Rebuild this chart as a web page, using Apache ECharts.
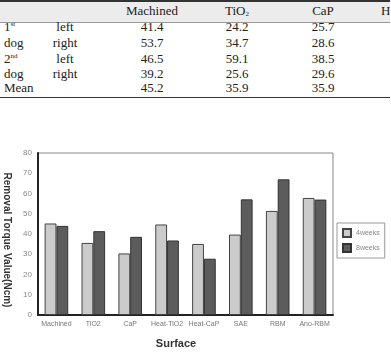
<!DOCTYPE html>
<html>
<head>
<meta charset="utf-8">
<script src="https://cdn.jsdelivr.net/npm/echarts@6/dist/echarts.min.js"></script>
<style>
  html, body { margin: 0; padding: 0; background: #fff; overflow: hidden; }
  #page { position: relative; width: 391px; height: 354px; overflow: hidden; }
  #table { position: absolute; left: 0; top: 0; width: 390px; height: 100px; overflow: hidden;
           font-family: "Liberation Serif", "DejaVu Serif", serif; font-size: 13px; color: #222; }
  .cell { position: absolute; white-space: nowrap; line-height: 14px; }
  .c { transform: translateX(-50%); }
  sup { font-size: 7px; vertical-align: 5px; line-height: 0; }
  sub { font-size: 7px; vertical-align: -1px; line-height: 0; }
  #chart { position: absolute; left: 0; top: 0; width: 391px; height: 354px; }
</style>
</head>
<body>
<div id="page">
  <div id="table"></div>
  <div id="chart"></div>
</div>
<script>
// table data
const tableCols = ['Machined', 'TiO<sub>2</sub>', 'CaP', 'Heat-TiO<sub>2</sub>'];
const rowLabels = ['1<sup>st</sup>', 'dog', '2<sup>nd</sup>', 'dog', 'Mean'];
const sideLabels = ['left', 'right', 'left', 'right', ''];
const machinedVals = [41.4, 53.7, 46.5, 39.2, 45.2];
const tio2Vals = [24.2, 34.7, 59.1, 25.6, 35.9];
const capVals = [25.7, 28.6, 38.5, 29.6, 35.9];

// chart data
const surfaces = ['Machined', 'TiO2', 'CaP', 'Heat-TiO2', 'Heat-CaP', 'SAE', 'RBM', 'Ano-RBM'];
const weeks4 = [45.2, 35.6, 30.4, 44.7, 35.1, 39.7, 51.4, 57.8];
const weeks8 = [44.0, 41.4, 38.6, 36.8, 27.8, 57.1, 67.0, 57.0];
const yTicks = [0, 10, 20, 30, 40, 50, 60, 70, 80];

// build table
const tbl = document.getElementById('table');
function addCell(html, x, y, center) {
  const d = document.createElement('div');
  d.className = 'cell' + (center ? ' c' : '');
  d.style.left = x + 'px';
  d.style.top = (y - 7) + 'px';
  d.innerHTML = html;
  tbl.appendChild(d);
}
function addLine(y, h, color) {
  const d = document.createElement('div');
  d.style.cssText = 'position:absolute;left:0;width:391px;top:' + y + 'px;height:' + h + 'px;background:' + color;
  tbl.appendChild(d);
}
const band = document.createElement('div');
band.style.cssText = 'position:absolute;left:0;top:1px;width:391px;height:21px;background:#ececec';
tbl.appendChild(band);
addLine(0, 1.5, '#333');
addLine(21.5, 1, '#999');
addLine(96.5, 1.5, '#333');

const colX = [152, 237, 323];
tableCols.forEach((c, i) => {
  if (i < 3) addCell(c, colX[i], 11, true);
  else addCell(c, 381, 11, false);
});
const rowY = [27, 43, 59, 74, 88];
const colVals = [machinedVals, tio2Vals, capVals];
rowLabels.forEach((r, i) => {
  addCell(r, 4, rowY[i], false);
  if (sideLabels[i]) addCell(sideLabels[i], 65, rowY[i], true);
  colVals.forEach((vals, j) => addCell(vals[i].toFixed(1), colX[j], rowY[i], true));
});

// chart
const chart = echarts.init(document.getElementById('chart'));
const sansFont = '"Liberation Sans", Arial, sans-serif';
chart.setOption({
  animation: false,
  grid: {
    left: 38, right: 58, top: 153, bottom: 39,
    show: true, borderColor: '#888', borderWidth: 1, backgroundColor: 'transparent'
  },
  legend: {
    orient: 'vertical',
    left: 337, top: 223,
    data: ['4weeks', '8weeks'],
    icon: 'rect',
    itemWidth: 8, itemHeight: 8, itemGap: 5,
    padding: [5, 5, 5, 5],
    borderColor: '#999', borderWidth: 1,
    textStyle: { fontSize: 7, color: '#888', fontFamily: sansFont }
  },
  xAxis: {
    type: 'category',
    data: surfaces,
    axisLine: { lineStyle: { color: '#222', width: 2 } },
    axisTick: { show: false },
    axisLabel: { fontSize: 7, color: '#777', margin: 6, interval: 0, fontFamily: sansFont }
  },
  yAxis: {
    type: 'value',
    min: yTicks[0], max: yTicks[yTicks.length - 1], interval: 10,
    axisLine: { show: true, lineStyle: { color: '#222', width: 2 } },
    axisTick: { show: false },
    splitLine: { show: false },
    axisLabel: { fontSize: 8, color: '#888', margin: 6, fontFamily: sansFont }
  },
  graphic: [
    {
      type: 'text', x: 7, y: 240, rotation: -Math.PI / 2,
      style: {
        text: 'Removal Torque Value(Ncm)', fill: '#333',
        font: 'bold 10px "Liberation Sans", Arial, sans-serif',
        textAlign: 'center', textVerticalAlign: 'middle'
      }
    },
    {
      type: 'text', x: 176, y: 344,
      style: {
        text: 'Surface', fill: '#333',
        font: 'bold 11px "Liberation Sans", Arial, sans-serif',
        textAlign: 'center', textVerticalAlign: 'middle'
      }
    }
  ],
  series: [
    {
      name: '4weeks', type: 'bar', data: weeks4,
      barGap: '0%', barCategoryGap: '36%',
      itemStyle: { color: '#cbcbcb', borderColor: '#444', borderWidth: 1 }
    },
    {
      name: '8weeks', type: 'bar', data: weeks8,
      itemStyle: { color: '#5c5c5c', borderColor: '#333', borderWidth: 1 }
    }
  ]
});
</script>
</body>
</html>
